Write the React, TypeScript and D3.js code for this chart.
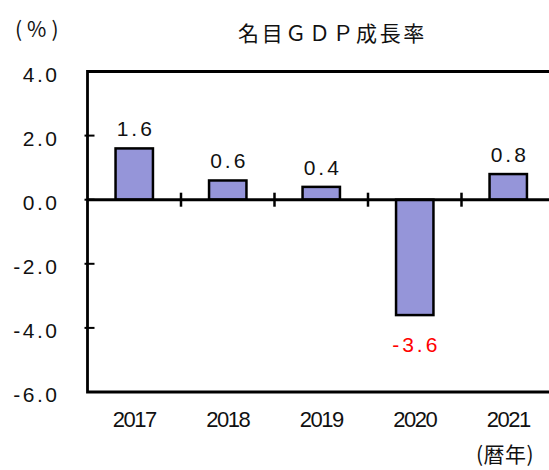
import React from 'react';
import * as d3 from 'd3';

const years = ['2017', '2018', '2019', '2020', '2021'];
const growth = [1.6, 0.6, 0.4, -3.6, 0.8];
const yTicks = [4, 2, 0, -2, -4, -6];

const W = 549;
const H = 470;
const margin = { left: 87.5, top: 71.5, bottom: 392, right: 555 };
const numFont = '"Liberation Sans", Arial, sans-serif';
const jpFont = '"Noto Sans CJK JP", "Noto Sans", sans-serif';
const barFill = '#9595d9';

const App: React.FC = () => {
  const x = d3
    .scaleBand<string>()
    .domain(years)
    .range([margin.left, margin.right])
    .paddingInner(0.6)
    .paddingOuter(0.3);
  const y = d3.scaleLinear().domain([-6, 4]).range([margin.bottom, margin.top]);
  const step = x.step();
  const y0 = y(0);

  return (
    <svg width={W} height={H} style={{ position: 'absolute', left: 0, top: 0, background: '#fff' }}>
      {/* title and unit labels */}
      <text x={332.5} y={41} textAnchor="middle" fontFamily={jpFont} fontSize={21} letterSpacing={2.6} fill="#111">
        名目ＧＤＰ成長率
      </text>
      <text x={15} y={37} fontFamily={jpFont} fontSize={21} letterSpacing={5} fill="#111">
        (%)
      </text>
      <text x={476} y={462} fontFamily={jpFont} fontSize={21} letterSpacing={0.5} fill="#111">
        (暦年)
      </text>

      {/* bars */}
      {growth.map((v, i) => {
        const bx = x(years[i]) as number;
        const top = Math.min(y(v), y0);
        const h = Math.abs(y(v) - y0);
        return (
          <rect key={years[i]} x={bx} y={top} width={x.bandwidth()} height={h}
            fill={barFill} stroke="#000" strokeWidth={2.5} />
        );
      })}

      {/* value labels */}
      {growth.map((v, i) => {
        const cx = (x(years[i]) as number) + x.bandwidth() / 2;
        const ly = v >= 0 ? y(v) - 12 : y(v) + 37;
        return (
          <text key={'l' + i} x={cx + 1.5} y={ly} textAnchor="middle" fontFamily={numFont}
            fontSize={21} letterSpacing={3} fill={v < 0 ? '#ff0000' : '#111'}>
            {v.toFixed(1)}
          </text>
        );
      })}

      {/* frame */}
      <path d={`M${margin.right},${margin.top}H${margin.left}V${margin.bottom}H${margin.right}`}
        fill="none" stroke="#000" strokeWidth={2.8} />

      {/* zero line with category ticks */}
      <line x1={margin.left} x2={W} y1={y0} y2={y0} stroke="#000" strokeWidth={3} />
      {years.slice(1).map((yr) => {
        const tx = (x(yr) as number) - step * 0.3;
        return <line key={'t' + yr} x1={tx} x2={tx} y1={y0 - 7} y2={y0 + 7} stroke="#000" strokeWidth={2.5} />;
      })}

      {/* y axis ticks and labels */}
      {yTicks.map((t) => (
        <g key={'y' + t}>
          {t !== 4 && t !== -6 && (
            <line x1={margin.left - 3} x2={margin.left + 7} y1={y(t)} y2={y(t)} stroke="#000" strokeWidth={2} />
          )}
          <text x={59.5} y={y(t) + 10} textAnchor="end" fontFamily={numFont} fontSize={21}
            letterSpacing={2.5} fill="#111">
            {t.toFixed(1)}
          </text>
        </g>
      ))}

      {/* x labels */}
      {years.map((yr) => (
        <text key={'x' + yr} x={(x(yr) as number) + x.bandwidth() / 2} y={426.5} textAnchor="middle"
          fontFamily={numFont} fontSize={22} letterSpacing={-1.5} fill="#111">
          {yr}
        </text>
      ))}
    </svg>
  );
};

export default App;
